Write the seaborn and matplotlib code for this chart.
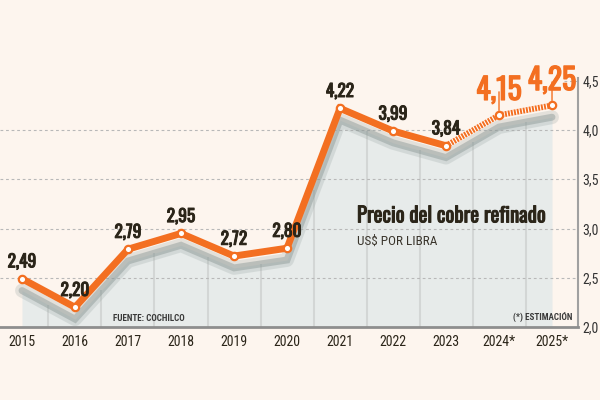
import matplotlib
matplotlib.use("Agg")
import matplotlib.pyplot as plt
import matplotlib.patheffects as pe
import seaborn as sns
import numpy as np
import pandas as pd

# data
years = ["2015", "2016", "2017", "2018", "2019", "2020", "2021", "2022", "2023", "2024*", "2025*"]
prices = [2.49, 2.20, 2.79, 2.95, 2.72, 2.80, 4.22, 3.99, 3.84, 4.15, 4.25]
price_labels = ["2,49", "2,20", "2,79", "2,95", "2,72", "2,80", "4,22", "3,99", "3,84", "4,15", "4,25"]
n_actual = 9  # 2015-2023 real, then estimates
yticks = [2.0, 2.5, 3.0, 3.5, 4.0, 4.5]
ytick_labels = ["2,0", "2,5", "3,0", "3,5", "4,0", "4,5"]

ORANGE = "#F36F21"
INK = "#2B2519"
BG = "#FDF5EE"
AREA = "#E7EBEA"
NUM_FONT = ["Oswald", "DejaVu Sans"]

sns.set_theme(style="white")
plt.rcParams["font.family"] = ["Roboto Condensed", "DejaVu Sans"]
plt.rcParams["lines.scale_dashes"] = False

fig = plt.figure(figsize=(6, 4), dpi=100, facecolor=BG)
ax = fig.add_axes([0, 0.1825, 0.9633, 0.6225])
ax.set_facecolor(BG)

x = np.arange(len(years))
df = pd.DataFrame({"x": x, "price": prices})
shadow = df["price"] - 0.12

# grey area under the shadow line
ax.fill_between(x, 2.0, shadow, color=AREA, zorder=1, lw=0)
mids = x[:-1] + 0.5
ax.vlines(mids, 2.0, np.interp(mids, x, shadow), color="#D3D6D5", lw=1.5, zorder=1.5)

# dotted horizontal guides
for v in yticks[1:-1]:
    ax.axhline(v, color="#B8B8B8", lw=0.8, ls=(0, (2, 2)), zorder=2)
ax.axhline(yticks[-1], xmin=0.975, xmax=1, color="#B8B8B8", lw=0.8, ls=(0, (2, 2)), zorder=2)

# soft shadow under the line
sns.lineplot(x=x, y=shadow, ax=ax, color="#97A3A1", lw=10, alpha=0.25, zorder=3)
sns.lineplot(x=x, y=shadow, ax=ax, color="#8A9694", lw=5, alpha=0.45, zorder=3)

# actual prices (solid) and estimates (striped)
real = df.iloc[:n_actual]
est = df.iloc[n_actual - 1:]
sns.lineplot(data=real, x="x", y="price", ax=ax, color=ORANGE, lw=5, zorder=4)
sns.lineplot(data=est, x="x", y="price", ax=ax, color="white", lw=4.2, zorder=4)
sns.lineplot(data=est, x="x", y="price", ax=ax, color=ORANGE, lw=4.2,
             ls=(0, (1.4, 0.8)), zorder=4.5)
for line in ax.lines[-4:]:
    line.set_solid_joinstyle("miter")
    line.set_dash_capstyle("butt")

ax.scatter(x, prices, s=28, facecolor="white", edgecolor=ORANGE, lw=1.6, zorder=6)

# value labels
bold_ink = [pe.withStroke(linewidth=0.7, foreground=INK)]
bold_orange = [pe.withStroke(linewidth=0.9, foreground=ORANGE)]
for i, (xi, p, lab) in enumerate(zip(x, prices, price_labels)):
    if i < n_actual:
        ax.annotate(lab, (xi, p), xytext=(0, 6), textcoords="offset points",
                    ha="center", va="bottom", fontsize=12.5, family=NUM_FONT,
                    color=INK, zorder=7, annotation_clip=False,
                    path_effects=bold_ink)
    else:
        ax.annotate(lab, (xi, p), xytext=(0, 11), textcoords="offset points",
                    ha="center", va="baseline", fontsize=21.5, family=NUM_FONT,
                    color=ORANGE, zorder=7, annotation_clip=False,
                    path_effects=bold_orange,
                    arrowprops=dict(arrowstyle="-", color=ORANGE, lw=1,
                                    patchA=None, shrinkA=1, shrinkB=3.5))

ax.set_xlim(-0.415, 10.49)
ax.set_ylim(2.0, 4.528)
ax.set_xticks(x, years)
ax.set_yticks(yticks, ytick_labels)
ax.yaxis.tick_right()
ax.tick_params(axis="x", length=0, pad=6, labelsize=10, labelcolor=INK)
ax.tick_params(axis="y", length=0, pad=3, labelsize=10, labelcolor="#333333")
ax.set_xlabel("")
ax.set_ylabel("")

for side in ["top", "left"]:
    ax.spines[side].set_visible(False)
ax.spines["bottom"].set_color("#8E8E8E")
ax.spines["bottom"].set_linewidth(2)
ax.spines["right"].set_color("#A0A0A0")
ax.spines["right"].set_linewidth(1.5)

# texts
ax.text(0.6176, 0.42, "Precio del cobre refinado", transform=ax.transAxes,
        ha="left", va="baseline", fontsize=15, family=NUM_FONT, color=INK, zorder=7,
        path_effects=bold_ink)
ax.text(0.6176, 0.33, "US$ POR LIBRA", transform=ax.transAxes,
        ha="left", va="baseline", fontsize=9.5, color="#3A352C", zorder=7)
ax.text(0.1955, 0.024, "FUENTE: COCHILCO", transform=ax.transAxes,
        ha="left", va="baseline", fontsize=6.5, fontweight="bold", color="#3A3A3A", zorder=7)
ax.text(0.991, 0.024, "(*) ESTIMACIÓN", transform=ax.transAxes,
        ha="right", va="baseline", fontsize=6.5, fontweight="bold", color="#3A3A3A", zorder=7)

fig.savefig("out.png", dpi=100, facecolor=BG)
